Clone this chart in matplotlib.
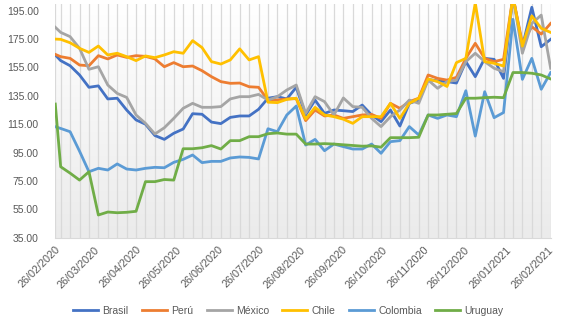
import numpy as np
import pandas as pd
import matplotlib
matplotlib.use("Agg")
import matplotlib.pyplot as plt
from matplotlib.colors import LinearSegmentedColormap
from matplotlib.transforms import ScaledTranslation

plt.rcParams['font.family'] = ['Liberation Sans', 'DejaVu Sans']

# ---------- DATA ----------
# first point on 26/02/2020, then weekly (Sundays) up to 28/02/2021
dates = [pd.Timestamp('2020-02-26')] + list(pd.date_range('2020-03-01', '2021-02-28', freq='7D'))

brasil = [163.8, 159.8, 156.2, 149.7, 141.0, 142.0, 132.8, 133.3, 125.0, 118.0,
          115.0, 107.0, 104.3, 108.6, 111.6, 122.4, 122.0, 116.5, 115.4, 119.8,
          120.8, 120.8, 125.5, 133.3, 134.4, 132.8, 141.0, 121.5, 132.0, 122.6,
          125.0, 124.5, 123.9, 128.5, 121.5, 116.8, 125.0, 113.7, 129.7, 132.0,
          146.5, 145.5, 145.0, 144.0, 159.1, 148.5, 161.4, 160.7, 147.3, 205.0,
          169.6, 197.4, 169.6, 174.8]
peru = [164.2, 162.6, 161.4, 156.7, 156.2, 163.3, 161.0, 163.8, 162.1, 163.3,
        162.8, 161.0, 155.5, 158.4, 155.5, 156.0, 152.7, 148.5, 145.0, 143.8,
        144.0, 141.4, 141.0, 132.0, 132.0, 132.8, 133.0, 117.5, 125.0, 120.8,
        121.5, 119.1, 120.3, 121.5, 121.9, 119.1, 129.7, 126.2, 130.9, 133.3,
        149.7, 147.3, 146.1, 148.0, 161.4, 172.0, 161.4, 159.1, 160.7, 205.0,
        172.0, 183.7, 178.5, 186.0]
mexico = [183.3, 179.7, 176.7, 168.5, 153.7, 155.5, 142.6, 136.7, 133.9, 121.5,
          115.6, 108.1, 112.5, 119.1, 126.2, 129.7, 126.9, 126.9, 127.4, 132.8,
          134.4, 134.4, 136.0, 132.0, 134.4, 139.1, 142.6, 122.6, 134.4, 130.9,
          121.5, 133.5, 127.4, 126.9, 119.1, 113.3, 120.3, 125.0, 132.0, 129.7,
          146.1, 140.3, 145.0, 146.1, 159.1, 165.0, 159.1, 154.4, 152.0, 205.0,
          165.0, 186.0, 191.9, 154.4]
chile = [175.0, 174.8, 172.4, 168.5, 165.6, 170.1, 163.8, 165.0, 162.6, 159.8,
         163.1, 161.9, 163.8, 166.1, 165.0, 173.9, 169.0, 159.1, 157.4, 160.3,
         168.1, 160.3, 162.6, 130.5, 130.2, 132.5, 133.3, 118.6, 126.9, 121.5,
         120.3, 118.5, 115.6, 120.3, 120.3, 120.3, 129.7, 119.1, 129.7, 133.3,
         146.9, 145.0, 141.6, 158.4, 161.4, 200.5, 159.1, 157.9, 156.0, 205.0,
         170.0, 191.3, 182.6, 179.7]
colombia = [113.2, 112.0, 109.7, 96.0, 81.5, 83.9, 82.7, 87.0, 83.4, 82.7,
            83.9, 84.6, 84.3, 88.1, 90.2, 93.3, 87.9, 88.8, 88.8, 91.2,
            91.9, 91.6, 90.5, 111.8, 109.7, 121.5, 127.8, 100.3, 104.3, 96.3,
            101.0, 99.2, 97.5, 97.5, 101.0, 94.5, 102.7, 103.4, 113.3, 107.4,
            121.5, 119.1, 121.5, 120.3, 138.6, 106.6, 137.9, 119.6, 123.2, 188.9,
            146.6, 161.4, 139.6, 151.4]
uruguay = [129.2, 85.0, 80.5, 75.6, 81.5, 51.0, 53.1, 52.6, 52.9, 53.6,
           74.5, 74.5, 76.0, 75.6, 97.7, 97.7, 98.4, 99.9, 97.5, 103.4,
           103.4, 106.2, 106.2, 108.3, 108.8, 108.0, 108.0, 101.0, 101.0, 101.3,
           101.0, 100.5, 100.0, 99.5, 99.7, 98.8, 105.5, 105.5, 105.5, 105.8,
           121.5, 121.5, 122.0, 122.5, 133.3, 133.3, 133.7, 134.0, 133.7, 151.4,
           151.4, 150.9, 149.7, 146.9]

series = [('Brasil', brasil, '#4472C4'),
          ('Perú', peru, '#ED7D31'),
          ('México', mexico, '#A5A5A5'),
          ('Chile', chile, '#FFC000'),
          ('Colombia', colombia, '#5B9BD5'),
          ('Uruguay', uruguay, '#70AD47')]

label_dates = [pd.Timestamp(y, m, 26) for y, m in
               [(2020, m) for m in range(2, 13)] + [(2021, 1), (2021, 2)]]

# ---------- PLOT ----------
fig = plt.figure(figsize=(5.73, 3.21), dpi=100)
ax = fig.add_axes([0.0965, 0.2595, 0.961 - 0.0965, 0.9888 - 0.2595])

# plot area gradient (white -> light gray)
cmap = LinearSegmentedColormap.from_list('bg', ['#ebebeb', '#ffffff'])
ax.imshow(np.linspace(0, 1, 256).reshape(-1, 1), extent=[0, 1, 0, 1],
          transform=ax.transAxes, cmap=cmap, aspect='auto', zorder=0, origin='lower')

# weekly vertical gridlines
for d in dates:
    ax.axvline(d, color='#d9d9d9', lw=0.9, zorder=1)

for name, vals, col in series:
    ax.plot(dates, vals, color=col, lw=2.0, label=name, zorder=3)

ax.set_xlim(pd.Timestamp('2020-02-26'), pd.Timestamp('2021-02-28'))
ax.set_ylim(35, 200)
ax.set_yticks(np.arange(35, 196, 20))
ax.set_yticklabels([f'{v:.2f}' for v in np.arange(35, 196, 20)])

ax.set_xticks(label_dates)
ax.set_xticklabels([d.strftime('%d/%m/%Y') for d in label_dates])
shift = ScaledTranslation(-5 / 100, -3 / 100, fig.dpi_scale_trans)
for lab in ax.get_xticklabels():
    lab.set_rotation(45)
    lab.set_ha('right')
    lab.set_rotation_mode('anchor')
    lab.set_transform(lab.get_transform() + shift)

ax.tick_params(axis='y', length=0, pad=12, labelsize=7.5, labelcolor='#595959')
ax.tick_params(axis='x', length=0, pad=5, labelsize=7.8, labelcolor='#595959')

for s in ['top', 'right']:
    ax.spines[s].set_visible(False)
ax.spines['left'].set_visible(False)
ax.spines['bottom'].set_color('#d9d9d9')

leg = fig.legend(loc='center', bbox_to_anchor=(0.503, 1 - 310.5 / 321), ncol=6,
                 frameon=False, fontsize=7.5, handlelength=2.4, handletextpad=0.4,
                 columnspacing=1.3)
for t in leg.get_texts():
    t.set_color('#595959')

fig.savefig('out.png', dpi=100)
